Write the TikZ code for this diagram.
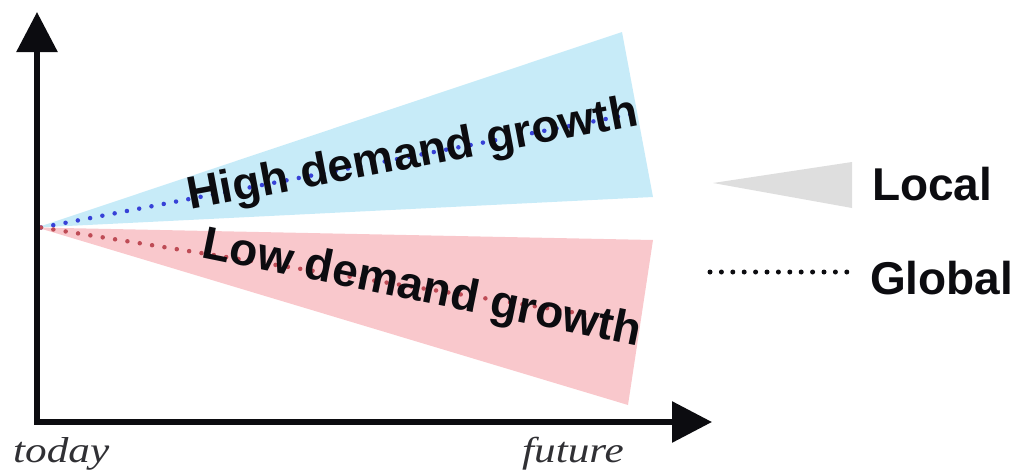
\documentclass[tikz,border=0pt]{standalone}
\usepackage{fontspec}
\setmainfont{Liberation Serif}
\newfontfamily\labelfont{Liberation Sans}
\usetikzlibrary{arrows.meta}
\definecolor{highfill}{RGB}{199,235,248}
\definecolor{lowfill}{RGB}{249,200,204}
\definecolor{highdot}{RGB}{55,65,215}
\definecolor{lowdot}{RGB}{190,75,85}
\definecolor{localfill}{RGB}{222,222,222}
\definecolor{ink}{RGB}{12,12,16}
\begin{document}
\begin{tikzpicture}[x=1pt,y=-1pt,
  boldlabel/.style={font=\labelfont\bfseries\fontsize{46}{46}\selectfont,
    inner sep=0pt, anchor=base west, text=ink},
  timelabel/.style={font=\itshape\fontsize{36}{36}\selectfont,
    inner sep=0pt, anchor=base west, text=ink!85},
  dotline/.style={line width=4.5pt, line cap=round, dash pattern=on 0pt off 12.5pt},
  axisline/.style={line width=6pt, line join=miter, draw=ink,
    {Triangle[length=40pt,width=40pt]}-{Triangle[length=40pt,width=40pt]}}]
\useasboundingbox (0,0) rectangle (1021,474);

% key points of the chart
\coordinate (origin) at (37,422);
\coordinate (ytip) at (37,12);
\coordinate (xtip) at (712,422);
\coordinate (apex) at (37,227.5);
\coordinate (hightop) at (622,32);
\coordinate (highbot) at (653,197);
\coordinate (lowtop) at (653,240);
\coordinate (lowbot) at (628,405);
\coordinate (highmid) at (637,113);
\coordinate (lowmid) at (640,323);

% local ranges (fans)
\fill[highfill] (apex) -- (hightop) -- (highbot) -- cycle;
\fill[lowfill] (apex) -- (lowtop) -- (lowbot) -- cycle;

% global trajectories
\draw[dotline, highdot] ([xshift=4pt]apex) -- (highmid);
\draw[dotline, lowdot] ([xshift=4pt]apex) -- (lowmid);

% scenario labels
\node[boldlabel, rotate=10.7] (high) at (190,210) {High demand growth};
\node[boldlabel, rotate=-11.5] (low) at (200,257) {Low demand growth};

% axes
\draw[axisline] (ytip) -- (origin) -- (xtip);
\node[timelabel] (today) at (13,462) {\scalebox{1.2}[1]{today}};
\node[timelabel] (future) at (522,462) {\scalebox{1.2}[1]{future}};

% legend
\coordinate (lgapex) at (713,183);
\fill[localfill] (lgapex) -- (852,162) -- (852,208) -- cycle;
\node[boldlabel] (local) at (872,200) {Local};
\coordinate (gla) at (710,272);
\coordinate (glb) at (847,272);
\draw[dotline, ink, line width=5pt, dash pattern=on 0pt off 11.4pt] (gla) -- (glb);
\node[boldlabel] (global) at (870,294) {Global};
\end{tikzpicture}
\end{document}
